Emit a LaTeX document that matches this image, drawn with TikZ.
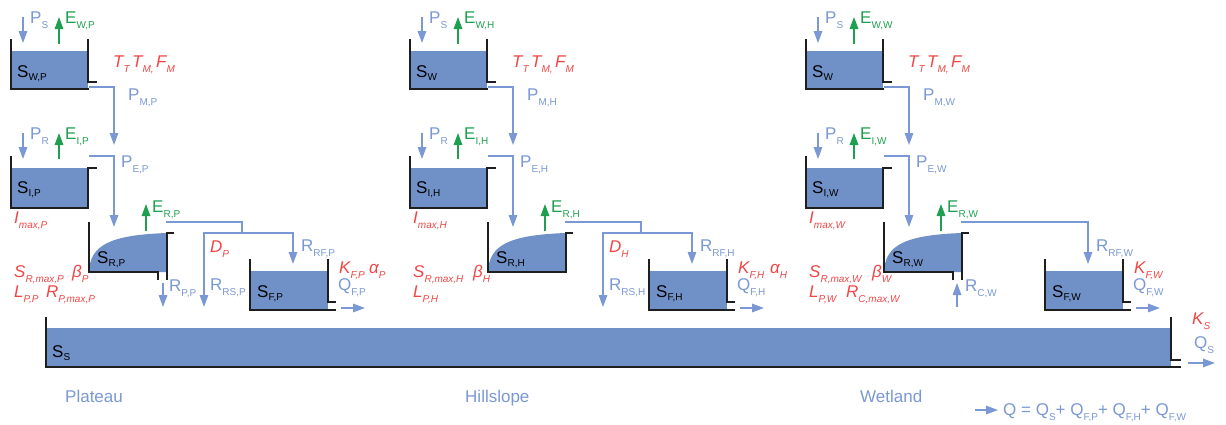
\documentclass[tikz,border=0pt]{standalone}
\usepackage{fontspec}
\setmainfont{Liberation Sans}
\usetikzlibrary{arrows.meta}
\definecolor{lblue}{RGB}{122,152,212}
\definecolor{wblue}{RGB}{112,144,200}
\definecolor{egreen}{RGB}{30,160,80}
\definecolor{pred}{RGB}{240,70,70}
\definecolor{wallc}{RGB}{30,30,30}
\newcommand\sbx[1]{\raisebox{-5pt}{\fontsize{10}{10}\selectfont #1}}
\newcommand\sbk[1]{\raisebox{-3.5pt}{\fontsize{10}{10}\selectfont #1}}
% common geometry of one column, suffix #1
\newcommand\colgeom[1]{%
  % S_W tank
  \fill[water] (11,51) rectangle (88,89);
  \draw[wall] (11,39) -- (11,89) -- (89,89);
  \draw[wall] (88,39) -- (88,82) -- (97,82);
  \coordinate (psT#1) at (23,17); \coordinate (psB#1) at (23,43);
  \draw[flow] (psT#1) -- (psB#1);
  \coordinate (ewB#1) at (59,44); \coordinate (ewT#1) at (59,17);
  \draw[evap] (ewB#1) -- (ewT#1);
  \coordinate (swOut#1) at (89,87); \coordinate (siIn#1) at (114,145);
  \draw[flow] (swOut#1) -| (siIn#1);
  % S_I tank
  \fill[water] (11,168) rectangle (88,208);
  \draw[wall] (11,156) -- (11,208) -- (88,208) -- (88,168) -- (97,168);
  \coordinate (prT#1) at (23,133); \coordinate (prB#1) at (23,159);
  \draw[flow] (prT#1) -- (prB#1);
  \coordinate (eiB#1) at (59,159); \coordinate (eiT#1) at (59,133);
  \draw[evap] (eiB#1) -- (eiT#1);
  \coordinate (siOut#1) at (89,156); \coordinate (srIn#1) at (114,227);
  \draw[flow] (siOut#1) -| (srIn#1);
  % S_R water
  \fill[water] (89,272) .. controls (90,245) and (110,235) .. (167,233) -- (167,272) -- cycle;
  \coordinate (erB#1) at (146,231); \coordinate (erT#1) at (146,204);
  \draw[evap] (erB#1) -- (erT#1);
  % S_F tank
  \fill[water] (250,271) rectangle (328,310);
  \draw[wall] (250,259) -- (250,310) -- (336,310);
  \draw[wall] (328,259) -- (328,302) -- (336,302);
  \coordinate (qfA#1) at (341,308); \coordinate (qfB#1) at (365,308);
  \draw[flow] (qfA#1) -- (qfB#1);
  \coordinate (srOut#1) at (166,222);
  \coordinate (sfIn#1) at (293,264);
}
\begin{document}
\begin{tikzpicture}[x=1pt,y=-1pt,
  wall/.style={draw=wallc,line width=1.6pt},
  water/.style={fill=wblue},
  flowline/.style={draw=lblue,line width=1.5pt},
  flow/.style={flowline,-{Triangle[width=8.5pt,length=12pt]}},
  evap/.style={draw=egreen,line width=1.5pt,-{Triangle[width=8.5pt,length=12pt]}},
  txt/.style={inner sep=0pt,anchor=base west,font=\fontsize{17}{17}\selectfont},
  lb/.style={txt,text=lblue},
  ev/.style={txt,text=egreen},
  pr/.style={txt,text=pred,font=\fontsize{17}{17}\selectfont\itshape},
  tk/.style={txt,text=black}]
\useasboundingbox (0,0) rectangle (1226,424);

% ---------------- Plateau ----------------
\begin{scope}
\colgeom{P}
\draw[wall] (89,222) -- (89,272) -- (158,272) -- (158,280);
\draw[wall] (167,280) -- (167,233) -- (174,233);
\coordinate (splitP) at (242,233);
\coordinate (rsEndP) at (204,307);
\draw[flowline] (srOutP) -| (splitP);
\draw[flow] (splitP) -| (sfInP);
\draw[flow] (splitP) -| (rsEndP);
\coordinate (rpTP) at (163,283); \coordinate (rpBP) at (163,307);
\draw[flow] (rpTP) -- (rpBP);
\node[tk] (tSWP) at (17,77) {S\sbk{W,P}};
\node[lb] (tPSP) at (30,23) {P\sbx{S}};
\node[ev] (tEWP) at (65,23) {E\sbx{W,P}};
\node[pr] (tTP) at (113,67) {T\sbx{T}\hspace{2.5pt}T\sbx{M,}\hspace{2.5pt}F\sbx{M}};
\node[lb] (tPMP) at (128,100) {P\sbx{M,P}};
\node[lb] (tPRP) at (30,139) {P\sbx{R}};
\node[ev] (tEIP) at (65,139) {E\sbx{I,P}};
\node[tk] (tSIP) at (17,193) {S\sbk{I,P}};
\node[lb] (tPEP) at (121,167) {P\sbx{E,P}};
\node[ev] (tERP) at (152,212) {E\sbx{R,P}};
\node[pr] (tImP) at (14,223) {I\sbx{max,P}};
\node[tk] (tSRP) at (97,263) {S\sbk{R,P}};
\node[pr] (tSRmP) at (14,277) {S\sbx{R,max,P}};
\node[pr] (tbP) at (72,277) {β\sbx{P}};
\node[pr] (tLP) at (14,297) {L\sbx{P,P}};
\node[pr] (tRPmP) at (46,297) {R\sbx{P,max,P}};
\node[lb] (tRPP) at (169,291) {R\sbx{P,P}};
\node[pr] (tDP) at (210,252) {D\sbx{P}};
\node[lb] (tRRFP) at (301,251) {R\sbx{RF,P}};
\node[lb] (tRRSP) at (210,290) {R\sbx{RS,P}};
\node[pr] (tKFP) at (339,273) {K\sbx{F,P}};
\node[pr] (taP) at (369,273) {α\sbx{P}};
\node[lb] (tQFP) at (338,290) {Q\sbx{F,P}};
\node[tk] (tSFP) at (257,297) {S\sbk{F,P}};
\end{scope}

% ---------------- Hillslope ----------------
\begin{scope}[xshift=399pt]
\colgeom{H}
\draw[wall] (89,222) -- (89,272) -- (167,272) -- (167,233) -- (174,233);
\coordinate (splitH) at (242,233);
\coordinate (rsEndH) at (204,307);
\draw[flowline] (srOutH) -| (splitH);
\draw[flow] (splitH) -| (sfInH);
\draw[flow] (splitH) -| (rsEndH);
\node[tk] (tSWH) at (17,77) {S\sbk{W}};
\node[lb] (tPSH) at (30,23) {P\sbx{S}};
\node[ev] (tEWH) at (65,23) {E\sbx{W,H}};
\node[pr] (tTH) at (113,67) {T\sbx{T}\hspace{2.5pt}T\sbx{M,}\hspace{2.5pt}F\sbx{M}};
\node[lb] (tPMH) at (128,100) {P\sbx{M,H}};
\node[lb] (tPRH) at (30,139) {P\sbx{R}};
\node[ev] (tEIH) at (65,139) {E\sbx{I,H}};
\node[tk] (tSIH) at (17,193) {S\sbk{I,H}};
\node[lb] (tPEH) at (121,167) {P\sbx{E,H}};
\node[ev] (tERH) at (152,212) {E\sbx{R,H}};
\node[pr] (tImH) at (14,223) {I\sbx{max,H}};
\node[tk] (tSRH) at (97,263) {S\sbk{R,H}};
\node[pr] (tSRmH) at (14,277) {S\sbx{R,max,H}};
\node[pr] (tbH) at (74,277) {β\sbx{H}};
\node[pr] (tLH) at (14,297) {L\sbx{P,H}};
\node[pr] (tDH) at (210,252) {D\sbx{H}};
\node[lb] (tRRFH) at (301,251) {R\sbx{RF,H}};
\node[lb] (tRRSH) at (210,290) {R\sbx{RS,H}};
\node[pr] (tKFH) at (339,273) {K\sbx{F,H}};
\node[pr] (taH) at (371,273) {α\sbx{H}};
\node[lb] (tQFH) at (338,290) {Q\sbx{F,H}};
\node[tk] (tSFH) at (257,297) {S\sbk{F,H}};
\end{scope}

% ---------------- Wetland ----------------
\begin{scope}[xshift=795pt]
\colgeom{W}
\draw[wall] (89,222) -- (89,272) -- (158,272) -- (158,280);
\draw[wall] (167,280) -- (167,233) -- (174,233);
\draw[flow] (srOutW) -| (sfInW);
\coordinate (rcBW) at (162,307); \coordinate (rcTW) at (162,283);
\draw[flow] (rcBW) -- (rcTW);
\node[tk] (tSWW) at (17,77) {S\sbk{W}};
\node[lb] (tPSW) at (30,23) {P\sbx{S}};
\node[ev] (tEWW) at (65,23) {E\sbx{W,W}};
\node[pr] (tTW) at (113,67) {T\sbx{T}\hspace{2.5pt}T\sbx{M,}\hspace{2.5pt}F\sbx{M}};
\node[lb] (tPMW) at (128,100) {P\sbx{M,W}};
\node[lb] (tPRW) at (30,139) {P\sbx{R}};
\node[ev] (tEIW) at (65,139) {E\sbx{I,W}};
\node[tk] (tSIW) at (17,193) {S\sbk{I,W}};
\node[lb] (tPEW) at (121,167) {P\sbx{E,W}};
\node[ev] (tERW) at (152,212) {E\sbx{R,W}};
\node[pr] (tImW) at (14,223) {I\sbx{max,W}};
\node[tk] (tSRW) at (97,263) {S\sbk{R,W}};
\node[pr] (tSRmW) at (14,277) {S\sbx{R,max,W}};
\node[pr] (tbW) at (77,277) {β\sbx{W}};
\node[pr] (tLW) at (14,297) {L\sbx{P,W}};
\node[pr] (tRCmW) at (51,297) {R\sbx{C,max,W}};
\node[lb] (tRCW) at (170,291) {R\sbx{C,W}};
\node[lb] (tRRFW) at (301,251) {R\sbx{RF,W}};
\node[pr] (tKFW) at (339,273) {K\sbx{F,W}};
\node[lb] (tQFW) at (338,290) {Q\sbx{F,W}};
\node[tk] (tSFW) at (257,297) {S\sbk{F,W}};
\end{scope}

% ---------------- Slow reservoir ----------------
\fill[water] (46,328) rectangle (1171,367);
\draw[wall] (46,317) -- (46,367) -- (1181,367);
\draw[wall] (1171,317) -- (1171,360) -- (1181,360);
\node[tk] (tSS) at (52,357) {S\sbk{S}};
\coordinate (qsA) at (1188,363); \coordinate (qsB) at (1215,363);
\draw[flow] (qsA) -- (qsB);
\node[pr] (tKS) at (1192,324) {K\sbx{S}};
\node[lb] (tQS) at (1194,348) {Q\sbx{S}};

\node[lb] (plateau) at (65,402) {Plateau};
\node[lb] (hillslope) at (465,402) {Hillslope};
\node[lb] (wetland) at (860,402) {Wetland};

\coordinate (qA) at (975,410); \coordinate (qB) at (998,410);
\draw[flow] (qA) -- (qB);
\node[lb] (eq) at (1003,415) {Q = Q\sbx{S}+ Q\sbx{F,P}+ Q\sbx{F,H}+ Q\sbx{F,W}};
\end{tikzpicture}
\end{document}
